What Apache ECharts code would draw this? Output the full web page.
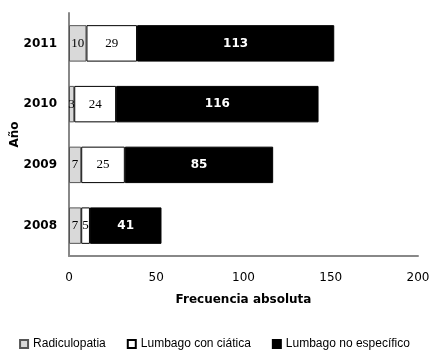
<!DOCTYPE html>
<html><head><meta charset="utf-8">
<script src="https://cdn.jsdelivr.net/npm/echarts@6/dist/echarts.min.js"></script>
<style>html,body{margin:0;padding:0;background:#fff}#c{width:429px;height:356px}</style>
</head><body><div id="c"></div>
<script>
var years = ['2008','2009','2010','2011'];
var radiculopatia = [7,7,3,10];
var lumbagoCiatica = [5,25,24,29];
var lumbagoNoEsp = [41,85,116,113];
var xTicks = [0,50,100,150,200];

var chart = echarts.init(document.getElementById('c'));
var serifLbl = {show:true, position:'inside', color:'#000', fontFamily:'Liberation Serif', fontSize:13};
chart.setOption({
  animation:false,
  grid:{left:69, right:11, top:13, bottom:100, containLabel:false, outerBoundsMode:'none'},
  legend:{
    bottom:1, left:'center', itemWidth:8, itemHeight:8, itemGap:21,
    textStyle:{fontFamily:'Liberation Sans', fontSize:12, color:'#000'},
    data:[{name:'Radiculopatia', icon:'rect'},{name:'Lumbago con ciática', icon:'rect'},{name:'Lumbago no específico', icon:'rect'}]
  },
  xAxis:{
    type:'value', min:0, max:200, interval:50,
    axisLine:{show:true, lineStyle:{color:'#888', width:2}},
    axisTick:{show:false}, splitLine:{show:false},
    axisLabel:{fontFamily:'DejaVu Sans', fontSize:12, color:'#000', margin:16},
    name:'Frecuencia absoluta', nameLocation:'middle', nameGap:38,
    nameTextStyle:{fontFamily:'DejaVu Sans', fontWeight:'bold', fontSize:12, color:'#000'}
  },
  yAxis:{
    type:'category', data:years,
    axisLine:{show:true, lineStyle:{color:'#888', width:2}},
    axisTick:{show:false},
    axisLabel:{fontFamily:'DejaVu Sans', fontWeight:'bold', fontSize:12, color:'#000', margin:12},
    name:'Año', nameLocation:'middle', nameGap:48, nameRotate:90, nameMoveOverlap:false,
    nameTextStyle:{fontFamily:'DejaVu Sans', fontWeight:'bold', fontSize:12, color:'#000'}
  },
  series:[
    {name:'Radiculopatia', type:'bar', stack:'s', data:radiculopatia, barCategoryGap:'40%',
     itemStyle:{color:'#d9d9d9', borderColor:'#555', borderWidth:1}, label:serifLbl},
    {name:'Lumbago con ciática', type:'bar', stack:'s', data:lumbagoCiatica,
     itemStyle:{color:'#fff', borderColor:'#000', borderWidth:1}, label:serifLbl},
    {name:'Lumbago no específico', type:'bar', stack:'s', data:lumbagoNoEsp,
     itemStyle:{color:'#000', borderColor:'#000', borderWidth:1},
     label:{show:true, position:'inside', color:'#fff', fontWeight:'bold', fontFamily:'DejaVu Sans', fontSize:12}}
  ]
});
</script></body></html>
